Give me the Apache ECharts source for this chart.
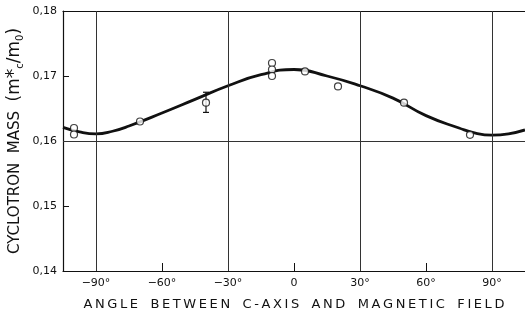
<!DOCTYPE html>
<html>
<head>
<meta charset="utf-8">
<script src="https://cdn.jsdelivr.net/npm/echarts@6/dist/echarts.min.js"></script>
<style>
  html, body { margin: 0; padding: 0; background: #fff; }
  #main { width: 525px; height: 320px; }
</style>
</head>
<body>
<div id="main"></div>
<script>
// fitted curve (extra points near the minima)
const curveAngles = [-105, -97.5, -90, -82.5, -75, -60, -45, -30, -15, 0, 15, 30, 45, 60, 75, 82.5, 90, 97.5, 105];
const curveMass = [0.1621, 0.1614, 0.1611, 0.1615, 0.1623, 0.1643, 0.1664, 0.1685, 0.1702, 0.1710, 0.1700, 0.1685, 0.1666, 0.1639, 0.1620, 0.1612, 0.1609, 0.1611, 0.1617];

// measured points
const pointAngles = [-100, -100, -70, -40, -10, -10, -10, 5, 20, 50, 80];
const pointMass = [0.1620, 0.1610, 0.1630, 0.1659, 0.1720, 0.1710, 0.1700, 0.1707, 0.1684, 0.1659, 0.16095];

// error bar on the -40 deg point: [angle, low, high]
const errorBars = [[-40, 0.1644, 0.1675]];

const xTicks = [-90, -60, -30, 0, 30, 60, 90];
const yTicks = [0.14, 0.15, 0.16, 0.17, 0.18];
const xGridLines = [-90, -30, 30, 90];
const yGridLines = [0.16];

const ink = '#111';
const font = 'DejaVu Sans';

// the printed titles are letter-spaced; thin spaces stand in for that
const spaced = s => s.split(' ').map(w => w.split('').join('\u2009')).join('   ');

const chart = echarts.init(document.getElementById('main'));

const option = {
  backgroundColor: '#fff',
  animation: false,
  grid: { left: 63, right: 0, top: 11, bottom: 49, outerBoundsMode: 'none', containLabel: false },
  xAxis: [
    {
      type: 'value',
      min: -105,
      max: 105,
      name: spaced('ANGLE BETWEEN C-AXIS AND MAGNETIC FIELD'),
      nameLocation: 'middle',
      nameGap: 27,
      nameMoveOverlap: false,
      nameTextStyle: { fontFamily: font, fontSize: 13, color: ink },
      axisLine: { show: true, onZero: false, lineStyle: { color: ink, width: 1.2 } },
      axisTick: { show: true, inside: true, length: 8, customValues: [-60, 0, 60], lineStyle: { color: ink } },
      axisLabel: {
        customValues: xTicks,
        margin: 7,
        fontFamily: font,
        fontSize: 11,
        color: ink,
        formatter: v => v === 0 ? '0' : (v < 0 ? '−' : '') + Math.abs(v) + '°'
      },
      splitLine: { show: false }
    },
    {
      type: 'value',
      position: 'top',
      min: -105,
      max: 105,
      axisLine: { show: true, onZero: false, lineStyle: { color: ink, width: 1.2 } },
      axisTick: { show: false },
      axisLabel: { show: false },
      splitLine: { show: false }
    }
  ],
  yAxis: {
    type: 'value',
    min: 0.14,
    max: 0.18,
    name: 'CYCLOTRON  MASS  {m|(m}{sup|*}{sub|c}{m|/m}{sub|0}{m|)}',
    nameLocation: 'middle',
    nameRotate: 90,
    nameGap: 38,
    nameMoveOverlap: false,
    nameTextStyle: {
      fontFamily: font, fontSize: 15, color: ink,
      rich: {
        m: { fontFamily: font, fontSize: 17, color: ink, lineHeight: 20 },
        sup: { fontFamily: font, fontSize: 19, color: ink, verticalAlign: 'top', lineHeight: 20 },
        sub: { fontFamily: font, fontSize: 10, color: ink, verticalAlign: 'bottom', lineHeight: 20 }
      }
    },
    axisLine: { show: true, onZero: false, lineStyle: { color: ink, width: 1.2 } },
    axisTick: { show: true, inside: true, length: 6, customValues: [0.15, 0.17], lineStyle: { color: ink } },
    axisLabel: {
      customValues: yTicks,
      margin: 6,
      fontFamily: font,
      fontSize: 11,
      color: ink,
      formatter: v => v.toFixed(2).replace('.', ',')
    },
    splitLine: { show: false }
  },
  series: [
    {
      type: 'line',
      data: curveAngles.map((a, i) => [a, curveMass[i]]),
      smooth: 0.5,
      symbol: 'none',
      lineStyle: { color: ink, width: 2.8 },
      z: 3,
      markLine: {
        silent: true,
        symbol: 'none',
        label: { show: false },
        lineStyle: { color: '#333', width: 1, type: 'solid' },
        data: xGridLines.map(v => ({ xAxis: v })).concat(yGridLines.map(v => ({ yAxis: v })))
      }
    },
    {
      type: 'custom',
      z: 4,
      data: errorBars,
      renderItem: (params, api) => {
        const top = api.coord([api.value(0), api.value(2)]);
        const bot = api.coord([api.value(0), api.value(1)]);
        const w = 3;
        const st = { stroke: ink, lineWidth: 1.2 };
        return {
          type: 'group',
          children: [
            { type: 'line', shape: { x1: top[0], y1: top[1], x2: bot[0], y2: bot[1] }, style: st },
            { type: 'line', shape: { x1: top[0] - w, y1: top[1], x2: top[0] + w, y2: top[1] }, style: st },
            { type: 'line', shape: { x1: bot[0] - w, y1: bot[1], x2: bot[0] + w, y2: bot[1] }, style: st }
          ]
        };
      }
    },
    {
      type: 'scatter',
      z: 5,
      data: pointAngles.map((a, i) => [a, pointMass[i]]),
      symbol: 'circle',
      symbolSize: 7,
      itemStyle: { color: '#fff', borderColor: ink, borderWidth: 1.2 }
    }
  ]
};

option && chart.setOption(option);
</script>
</body>
</html>
